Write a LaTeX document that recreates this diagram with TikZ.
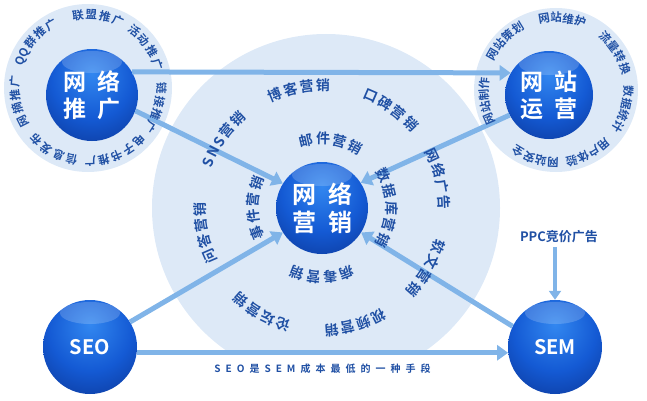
\documentclass[tikz,border=0pt]{standalone}
\usepackage{fontspec}
\setmainfont{Noto Sans CJK SC}[BoldFont={Noto Sans CJK SC Bold}]
\newfontfamily\ringfam{Noto Sans CJK SC}[BoldFont={Noto Sans CJK SC Bold},WordSpace=1.7]
\newfontfamily\smallfam{Noto Sans CJK SC}[BoldFont={Noto Sans CJK SC Bold},WordSpace=0.5]
\usetikzlibrary{arrows.meta,decorations.text}

\definecolor{txtblue}{RGB}{32,80,164}
\definecolor{arrowblue}{RGB}{128,180,232}
\definecolor{discblue}{RGB}{221,233,247}
\definecolor{ballhi}{RGB}{50,135,240}
\definecolor{ballmid}{RGB}{20,90,212}
\definecolor{balldark}{RGB}{10,48,140}
\definecolor{ballrim}{RGB}{4,22,70}

\pgfdeclareradialshading{glossball}{\pgfpoint{0bp}{12bp}}{%
  color(0bp)=(ballhi); color(22bp)=(ballmid); color(45bp)=(balldark);
  color(62bp)=(ballrim); color(100bp)=(ballrim)}

\newcommand\bigring{\ringfam\bfseries\fontsize{14}{14}\selectfont}
\newcommand\smallring{\smallfam\bfseries\fontsize{11.5}{12}\selectfont}

% text round a ring, read clockwise
\newcommand\ringtext[5]{%
  \path[decorate,decoration={text along path,text align=center,text color=txtblue,
        text={|#4|#5}}]
    ([shift={(#1)}]#2+60:#3) arc[start angle=#2+60,end angle=#2-60,radius=#3];}

\begin{document}
\begin{tikzpicture}[x=1pt,y=1pt,
  ball/.style={circle,minimum size=92pt,inner sep=0pt,shading=glossball,
               text=white,font=\bfseries\fontsize{23}{27}\selectfont,align=center,
               path picture={\fill[white,opacity=.18] ([yshift=-13pt]path picture bounding box.north)
                 ellipse[x radius=30pt,y radius=11pt];}},
  arr/.style={arrowblue,line width=5pt,-{Triangle[length=11pt,width=15pt]}}]
\useasboundingbox (0,0) rectangle (647,400);
\coordinate (O) at (322,192);
\coordinate (ringA) at (88,312);
\coordinate (ringB) at (556,310);
% light discs
\begin{scope}
\clip (0,47) rectangle (647,400);
\fill[discblue] ([xshift=4]O) circle[radius=174];
\end{scope}
\fill[discblue] (ringA) circle[radius=84];
\fill[discblue] (ringB) circle[radius=82];
% balls
\node[ball] (tui) at (92,305) {网\hspace{.45em}络\\推\hspace{.45em}广};
\node[ball,minimum size=88pt] (yun) at (549,305) {网\hspace{.45em}站\\运\hspace{.45em}营};
\node[ball,font=\bfseries\fontsize{24}{28}\selectfont] (ying) at (322,192) {网\hspace{.5em}络\\营\hspace{.5em}销};
\node[ball,minimum size=94pt,font=\bfseries\fontsize{20}{20}\selectfont] (seo) at (90,53) {SEO};
\node[ball,minimum size=94pt,font=\bfseries\fontsize{20}{20}\selectfont] (sem) at (555,53) {SEM};
\node[text=txtblue,font=\bfseries\fontsize{13}{13}\selectfont] (ppc) at (559,163) {PPC竞价广告};
% arrows
\draw[arr] (tui.30) -- (yun.150);
\draw[arr] (tui.-20) -- (ying.148);
\draw[arr] (yun.207) -- (ying.33);
\draw[arr] (seo.32) -- (ying.212);
\draw[arr] (sem.154) -- (ying.-32);
\draw[arr] (seo.-7) -- (sem.187)
  node[midway,below=5pt,text=txtblue,font=\bfseries\fontsize{10}{12}\selectfont\addfontfeature{LetterSpace=50}] (note) {SEO是SEM成本最低的一种手段};
\draw[arr,line width=3.5pt,-{Triangle[length=9pt,width=12pt]}] (ppc.south -| sem.north) -- (sem.north);
% ring of 网络推广
\ringtext{ringA}{82}{69}{\smallring}{联 盟 推 广}
\ringtext{ringA}{35}{69}{\smallring}{活 动 推 广}
\ringtext{ringA}{-16}{69}{\smallring}{链 接 推 广}
\ringtext{ringA}{-67}{69}{\smallring}{电 子 书 推 广}
\ringtext{ringA}{-119}{69}{\smallring}{信 息 发 布}
\ringtext{ringA}{191}{69}{\smallring}{网 摘 推 广}
\ringtext{ringA}{139}{69}{\smallring}{QQ 群 推 广}
% ring of 网站运营
\ringtext{ringB}{136}{68}{\smallring}{网站策划}
\ringtext{ringB}{85}{68}{\smallring}{网站维护}
\ringtext{ringB}{32}{68}{\smallring}{流量转换}
\ringtext{ringB}{-16}{68}{\smallring}{数据统计}
\ringtext{ringB}{-63}{68}{\smallring}{用户体验}
\ringtext{ringB}{-107}{68}{\smallring}{网站安全}
\ringtext{ringB}{189}{68}{\smallring}{网站制作}
% outer ring of 网络营销
\ringtext{O}{101}{117}{\bigring}{博 客 营 销}
\ringtext{O}{55}{117}{\bigring}{口 碑 营 销}
\ringtext{O}{14}{117}{\bigring}{网 络 广 告}
\ringtext{O}{-30}{117}{\bigring}{软 文 营 销}
\ringtext{O}{-74}{117}{\bigring}{视 频 营 销}
\ringtext{O}{-120}{117}{\bigring}{论 坛 营 销}
\ringtext{O}{192}{117}{\bigring}{问 答 营 销}
\ringtext{O}{145}{117}{\bigring}{S N S 营 销}
% inner ring
\ringtext{O}{82}{64}{\bigring}{邮 件 营 销}
\ringtext{O}{0}{64}{\bigring}{数 据 库 营 销}
\ringtext{O}{-90}{64}{\bigring}{病 毒 营 销}
\ringtext{O}{180}{64}{\bigring}{事 件 营 销}
\end{tikzpicture}
\end{document}
